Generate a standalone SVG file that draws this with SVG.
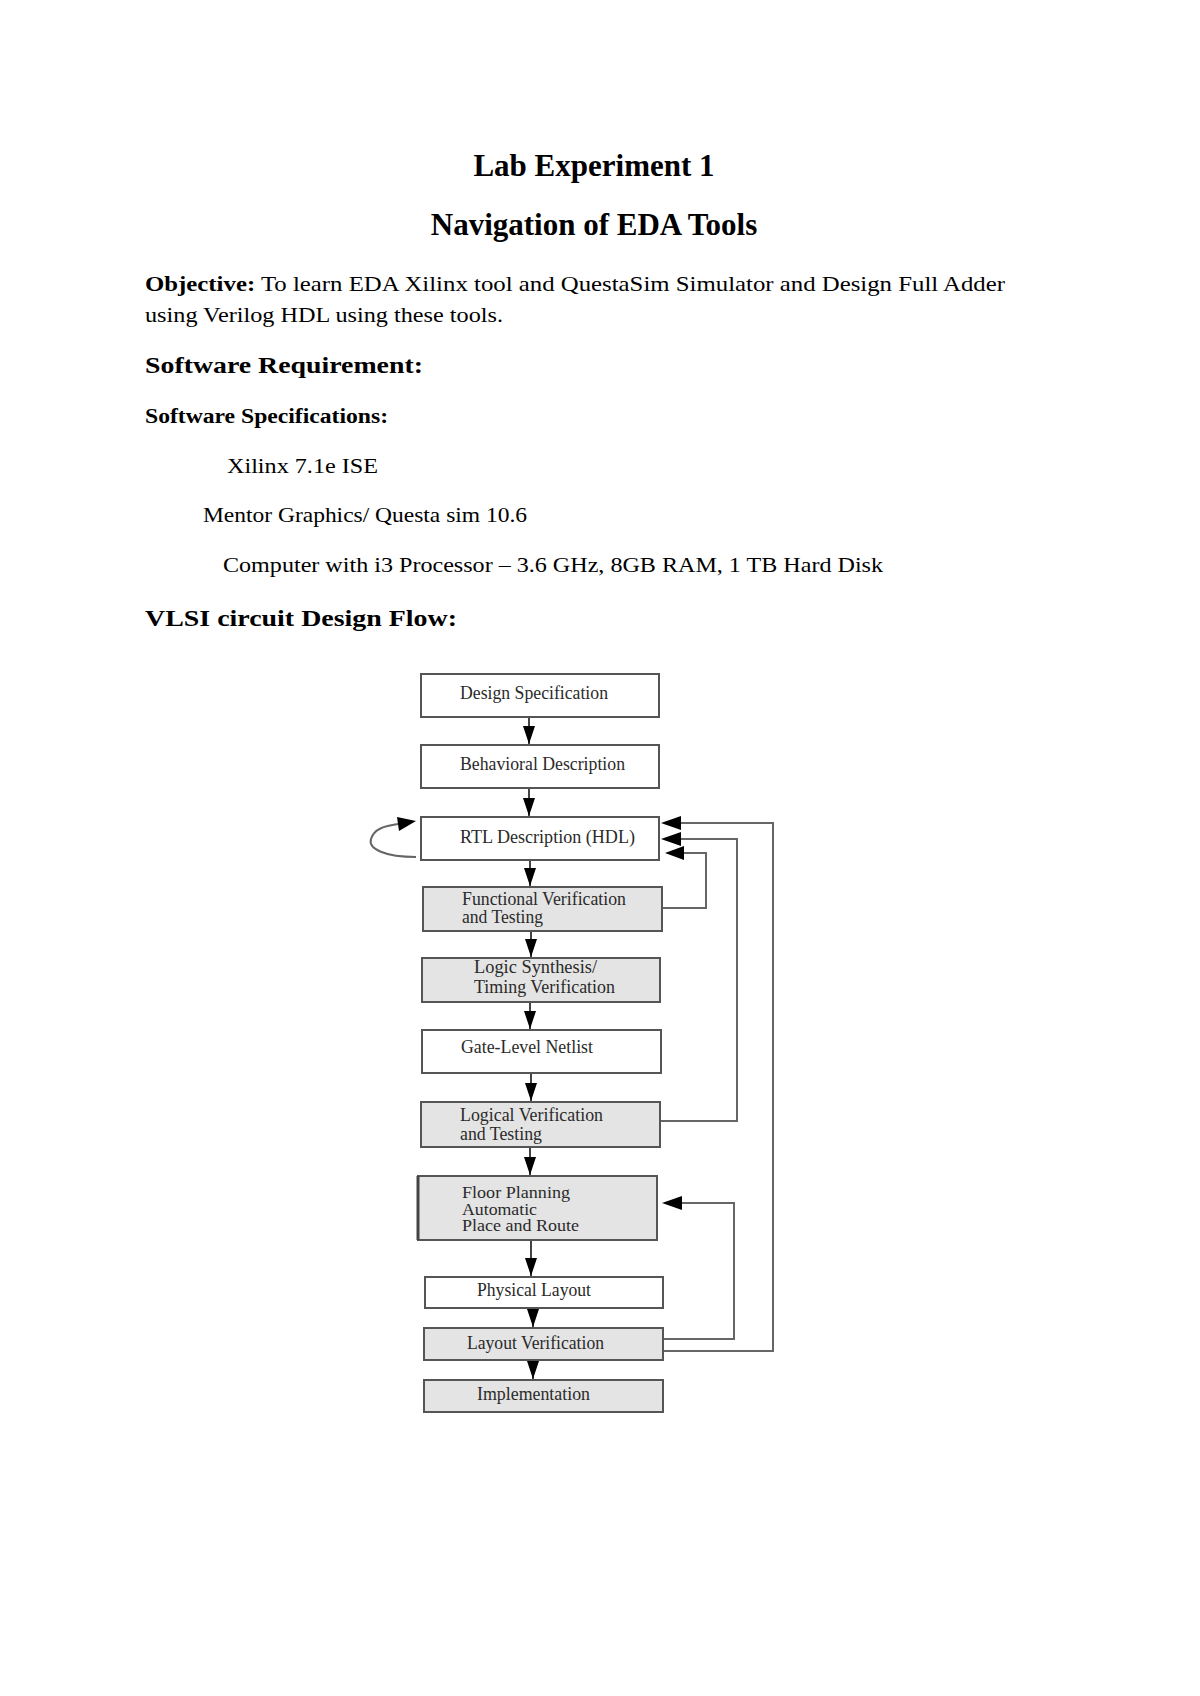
<svg xmlns="http://www.w3.org/2000/svg" width="1200" height="1696" viewBox="0 0 1200 1696">
<defs>
<marker id="ah" viewBox="0 0 18 12" refX="18" refY="6" markerWidth="18" markerHeight="12" markerUnits="userSpaceOnUse" orient="auto">
<path d="M0,0 L18,6 L0,12 Z" fill="#000"/>
</marker>
<style>
.doc{font-family:"Liberation Serif","Times New Roman",serif;fill:#000;}
.title{font-size:31px;font-weight:bold;}
.body{font-size:21px;}
.bold{font-weight:bold;}
.box{stroke:#555;stroke-width:2;}
.w{fill:#fff;}
.g{fill:#e4e4e4;}
.lbl{font-family:"Liberation Serif","Times New Roman",serif;font-size:18px;fill:#2a2a2a;}
.down{stroke:#444;stroke-width:2;fill:none;}
.fb{stroke:#666;stroke-width:2;fill:none;}
.head{fill:#000;}
</style>
</defs>
<rect width="1200" height="1696" fill="#fff"/>

<g id="header" class="doc">
<text class="title" x="594" y="176" text-anchor="middle">Lab Experiment 1</text>
<text class="title" x="594" y="235" text-anchor="middle">Navigation of EDA Tools</text>
<text class="body" x="145" y="291" textLength="860" lengthAdjust="spacingAndGlyphs"><tspan class="bold">Objective:</tspan> To learn EDA Xilinx tool and QuestaSim Simulator and Design Full Adder</text>
<text class="body" x="145" y="322" textLength="358" lengthAdjust="spacingAndGlyphs">using Verilog HDL using these tools.</text>
<text class="body bold" x="145" y="373" style="font-size:23px" textLength="278" lengthAdjust="spacingAndGlyphs">Software Requirement:</text>
<text class="body bold" x="145" y="423" style="font-size:20px" textLength="243" lengthAdjust="spacingAndGlyphs">Software Specifications:</text>
<text class="body" x="227" y="473" textLength="151" lengthAdjust="spacingAndGlyphs">Xilinx 7.1e ISE</text>
<text class="body" x="203" y="522" textLength="324" lengthAdjust="spacingAndGlyphs">Mentor Graphics/ Questa sim 10.6</text>
<text class="body" x="223" y="572" textLength="660" lengthAdjust="spacingAndGlyphs">Computer with i3 Processor – 3.6 GHz, 8GB RAM, 1 TB Hard Disk</text>
<text class="body bold" x="145" y="626" style="font-size:24px" textLength="312" lengthAdjust="spacingAndGlyphs">VLSI circuit Design Flow:</text>
</g>

<g id="connectors">
<line class="down" x1="529" y1="717" x2="529" y2="744" marker-end="url(#ah)"/>
<line class="down" x1="529" y1="788" x2="529" y2="816" marker-end="url(#ah)"/>
<line class="down" x1="530" y1="860" x2="530" y2="886" marker-end="url(#ah)"/>
<line class="down" x1="531" y1="931" x2="531" y2="957" marker-end="url(#ah)"/>
<line class="down" x1="530" y1="1002" x2="530" y2="1029" marker-end="url(#ah)"/>
<line class="down" x1="531" y1="1073" x2="531" y2="1101" marker-end="url(#ah)"/>
<line class="down" x1="530" y1="1147" x2="530" y2="1175" marker-end="url(#ah)"/>
<line class="down" x1="531" y1="1240" x2="531" y2="1276" marker-end="url(#ah)"/>
<line class="down" x1="533" y1="1308" x2="533" y2="1327" marker-end="url(#ah)"/>
<line class="down" x1="533" y1="1360" x2="533" y2="1379" marker-end="url(#ah)"/>
<path class="fb" d="M662,908 H706 V853 H682"/>
<path class="head" d="M665,853 L684,846 L684,860 Z"/>
<path class="fb" d="M660,1121 H737 V839 H680"/>
<path class="head" d="M661,839 L681,832 L681,846 Z"/>
<path class="fb" d="M663,1351 H773 V823 H680"/>
<path class="head" d="M661,823 L681,816 L681,830 Z"/>
<path class="fb" d="M663,1339 H734 V1203 H681"/>
<path class="head" d="M662,1203 L682,1196 L682,1210 Z"/>
<path class="fb" d="M416,857 C385,857 368,849 371,839 C374,829 384,826 398,824"/>
<path class="head" d="M416,821 L397,817 L399,831 Z"/>
</g>

<g id="n1"><rect class="box w" x="421" y="674" width="238" height="43"/><text class="lbl" x="460" y="699" textLength="148" lengthAdjust="spacingAndGlyphs">Design Specification</text></g>
<g id="n2"><rect class="box w" x="421" y="745" width="238" height="43"/><text class="lbl" x="460" y="770" textLength="165" lengthAdjust="spacingAndGlyphs">Behavioral Description</text></g>
<g id="n3"><rect class="box w" x="421" y="817" width="238" height="43"/><text class="lbl" x="460" y="843" textLength="175" lengthAdjust="spacingAndGlyphs">RTL Description (HDL)</text></g>
<g id="n4"><rect class="box g" x="423" y="887" width="239" height="44"/><text class="lbl" x="462" y="905" textLength="164" lengthAdjust="spacingAndGlyphs">Functional Verification</text><text class="lbl" x="462" y="923" textLength="81" lengthAdjust="spacingAndGlyphs">and Testing</text></g>
<g id="n5"><rect class="box g" x="422" y="958" width="238" height="44"/><text class="lbl" x="474" y="973" textLength="123" lengthAdjust="spacingAndGlyphs">Logic Synthesis/</text><text class="lbl" x="474" y="993" textLength="141" lengthAdjust="spacingAndGlyphs">Timing Verification</text></g>
<g id="n6"><rect class="box w" x="422" y="1030" width="239" height="43"/><text class="lbl" x="461" y="1053" textLength="132" lengthAdjust="spacingAndGlyphs">Gate-Level Netlist</text></g>
<g id="n7"><rect class="box g" x="421" y="1102" width="239" height="45"/><text class="lbl" x="460" y="1121" textLength="143" lengthAdjust="spacingAndGlyphs">Logical Verification</text><text class="lbl" x="460" y="1140" textLength="82" lengthAdjust="spacingAndGlyphs">and Testing</text></g>
<g id="n8"><rect class="box g" x="418" y="1176" width="239" height="64"/><line x1="418" y1="1176" x2="418" y2="1240" stroke="#444" stroke-width="3"/><text class="lbl" x="462" y="1198" style="font-size:16px" textLength="108" lengthAdjust="spacingAndGlyphs">Floor Planning</text><text class="lbl" x="462" y="1215" style="font-size:16px" textLength="75" lengthAdjust="spacingAndGlyphs">Automatic</text><text class="lbl" x="462" y="1231" style="font-size:16px" textLength="117" lengthAdjust="spacingAndGlyphs">Place and Route</text></g>
<g id="n9"><rect class="box w" x="425" y="1277" width="238" height="31"/><text class="lbl" x="477" y="1296" textLength="114" lengthAdjust="spacingAndGlyphs">Physical Layout</text></g>
<g id="n10"><rect class="box g" x="424" y="1328" width="239" height="32"/><text class="lbl" x="467" y="1349" textLength="137" lengthAdjust="spacingAndGlyphs">Layout Verification</text></g>
<g id="n11"><rect class="box g" x="424" y="1380" width="239" height="32"/><text class="lbl" x="477" y="1400" textLength="113" lengthAdjust="spacingAndGlyphs">Implementation</text></g>
</svg>
